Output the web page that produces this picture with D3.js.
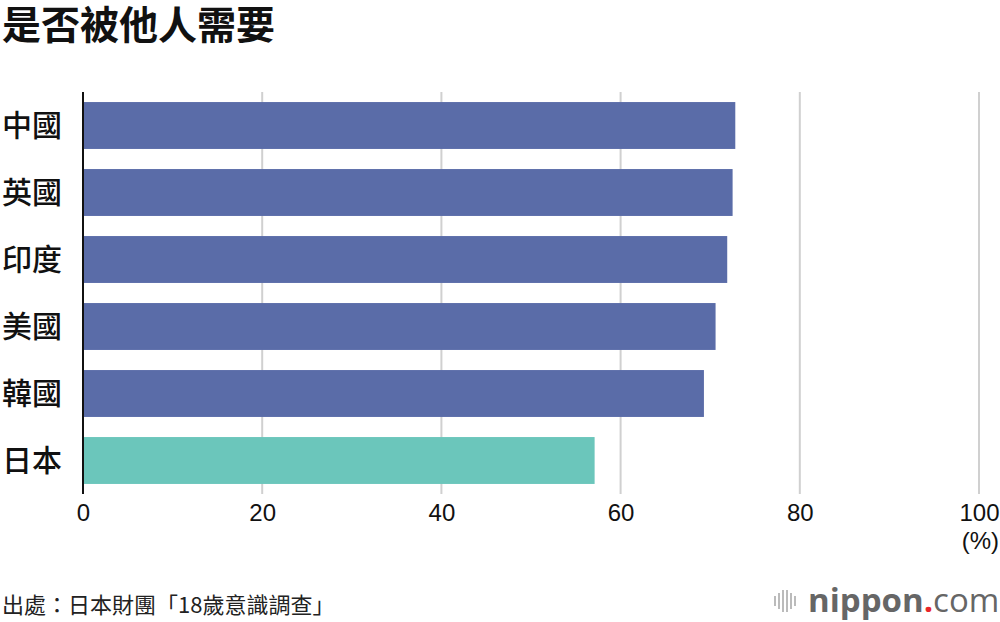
<!DOCTYPE html>
<html><head><meta charset="utf-8">
<script src="https://cdn.jsdelivr.net/npm/d3@7"></script>
<style>body{margin:0;background:#fff}svg{display:block}</style>
</head><body>
<svg id="c" width="1000" height="622"></svg>
<script>
const categories = ["中國","英國","印度","美國","韓國","日本"];
const values = [72.8, 72.5, 71.9, 70.6, 69.3, 57.1];
const tickValues = [0, 20, 40, 60, 80, 100];
const title = "是否被他人需要";
const source = "出處：日本財團「18歲意識調查」";
const unit = "(%)";

const svg = d3.select("#c");
const cjk = "'Noto Sans CJK TC','Noto Sans CJK SC',sans-serif";
const num = "'Liberation Sans',Arial,sans-serif";

const x = d3.scaleLinear().domain([0,100]).range([83,979]);
const y = d3.scaleBand().domain(categories).range([92,494]).paddingInner(0.3).paddingOuter(0.15);

svg.append("text").attr("x",2).attr("y",39).text(title)
  .attr("font-family",cjk).attr("font-weight",700).attr("font-size",39).attr("fill","#111");

// gridlines
svg.append("g").selectAll("line").data(tickValues.filter(d=>d>0)).join("line")
  .attr("x1",d=>x(d)).attr("x2",d=>x(d)).attr("y1",92).attr("y2",494)
  .attr("stroke","#d0d0d0").attr("stroke-width",2);

svg.append("g").selectAll("rect").data(values).join("rect")
  .attr("x",x(0)).attr("y",(d,i)=>y(categories[i]))
  .attr("width",d=>x(d)-x(0)).attr("height",y.bandwidth())
  .attr("fill",(d,i)=>categories[i]==="日本"?"#6bc6bb":"#5a6ca8");

// axis line
svg.append("line").attr("x1",x(0)).attr("x2",x(0)).attr("y1",92).attr("y2",494)
  .attr("stroke","#111").attr("stroke-width",2);

// category labels
svg.append("g").selectAll("text").data(categories).join("text")
  .attr("x",2).attr("y",d=>y(d)+y.bandwidth()/2).attr("dy","0.36em")
  .text(d=>d).attr("font-family",cjk).attr("font-size",30).attr("font-weight",500).attr("fill","#111");

// x axis ticks
const xAxis = d3.axisBottom(x).tickValues(tickValues).tickSize(0).tickPadding(0);
const gx = svg.append("g").attr("transform","translate(0,521)").call(xAxis);
gx.select(".domain").remove();
gx.selectAll("text").attr("font-family",num).attr("font-size",24).attr("fill","#111").attr("dy",0);
gx.selectAll(".tick").filter(d=>d===100).select("text").attr("text-anchor","end").attr("dx",20);

svg.append("text").attr("x",999).attr("y",549).attr("text-anchor","end").text(unit)
  .attr("font-family",num).attr("font-size",24).attr("fill","#111");

svg.append("text").attr("x",2).attr("y",613).text(source)
  .attr("font-family",cjk).attr("font-size",22).attr("fill","#222");

// logo
const logo = svg.append("g");
[0,4,8,12,16,20].forEach((o,i)=>{
  const hs=[10,16,22,22,16,10][i];
  logo.append("rect").attr("x",774+o).attr("y",601-hs/2).attr("width",2).attr("height",hs).attr("fill","#bbb");
});
const lt = logo.append("text").attr("x",808).attr("y",612).attr("font-family","'Open Sans',sans-serif").attr("font-size",33).attr("fill","#666");
lt.append("tspan").text("nippon").attr("font-weight",700);
lt.append("tspan").text(".").attr("fill","#e8262a").attr("font-weight",700);
lt.append("tspan").text("com").attr("font-weight",400);
</script>
</body></html>
